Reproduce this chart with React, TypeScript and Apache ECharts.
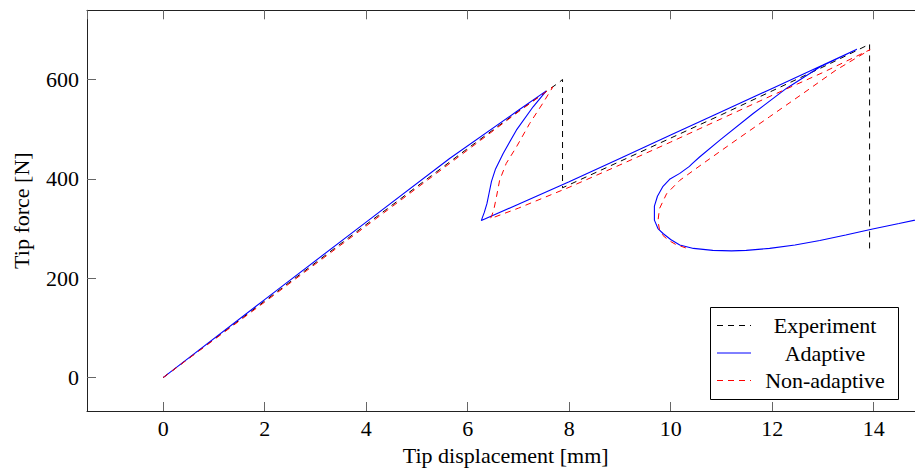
import React, { useEffect, useRef } from "react";
import * as echarts from "echarts";

// Tip displacement [mm], tip force [N]
const experiment: [number, number][] = [
  [0, 0], [2, 154], [4, 308], [6, 461], [7, 536], [7.8, 594], [7.87, 600],
  [7.87, 382], [9, 435], [10, 482], [11, 529], [12, 577], [13, 625], [13.92, 671],
  [13.92, 251],
];

const adaptive: [number, number][] = [
  [0, 0], [2, 157], [4, 313], [5.645, 441], [7, 538], [7.55, 577],
  [7.29, 545], [6.96, 498], [6.7, 451], [6.55, 420], [6.47, 395], [6.42, 370], [6.38, 350],
  [6.33, 333], [6.29, 322], [6.27, 316],
  [7, 349], [8, 394], [9, 441], [10, 488], [11, 535], [12, 582], [13, 629], [13.67, 661],
  [12.94, 625], [12.28, 582], [11.62, 531], [10.97, 478], [10.57, 444], [10.42, 430], [10.37, 425],
  [10.18, 411], [9.98, 399], [9.85, 385], [9.74, 365], [9.68, 345], [9.68, 317], [9.75, 300],
  [9.85, 290], [10.0, 278], [10.18, 267], [10.45, 260], [10.83, 256], [11.2, 255], [11.49, 256],
  [11.95, 260], [12.45, 267], [12.94, 276], [13.45, 287], [13.98, 299], [14.5, 310], [15, 321],
];

const nonAdaptive: [number, number][] = [
  [0, 0], [2, 152], [4, 305], [6, 458], [7, 535], [7.68, 585],
  [7.48, 552], [7.22, 511], [6.96, 464], [6.76, 431], [6.63, 397], [6.57, 365], [6.52, 340],
  [6.48, 327], [6.45, 320],
  [7, 341], [8, 383], [9, 428], [10, 474], [11, 521], [12, 568], [13, 614], [13.93, 660],
  [13.26, 619], [12.61, 572], [11.95, 525], [11.29, 478], [10.64, 431], [10.18, 397], [9.92, 370],
  [9.78, 340], [9.75, 315], [9.78, 298], [9.85, 286], [9.95, 277], [10.1, 268], [10.3, 261],
];

const seriesNames = ["Experiment", "Adaptive", "Non-adaptive"];
const seriesColors = ["#000000", "#0000ff", "#ff0000"];
const xLimits: [number, number] = [-1.5, 15];
const yLimits: [number, number] = [-67.2, 739.2];
const xTickStep = 2;
const yTickStep = 200;
const xLabelMax = 14;
const xTitle = "Tip displacement [mm]";
const yTitle = "Tip force [N]";

const FONT = "'Liberation Serif', 'DejaVu Serif', serif";
const FS = 22;

export default function App() {
  const ref = useRef<HTMLDivElement>(null);
  useEffect(() => {
    if (!ref.current) return;
    const chart = echarts.init(ref.current, undefined, { renderer: "svg" });
    const axisLine = { show: true, onZero: false, lineStyle: { color: "#222", width: 1 } };
    const axisTick = { show: true, inside: true, length: 9, lineStyle: { color: "#666", width: 1 } };
    const labelStyle = { color: "#000", fontSize: FS, fontFamily: FONT };
    const xBase = {
      type: "value" as const,
      min: xLimits[0],
      max: xLimits[1],
      minInterval: xTickStep,
      maxInterval: xTickStep,
      splitLine: { show: false },
      axisLine,
      axisTick,
    };
    const yBase = {
      type: "value" as const,
      min: yLimits[0],
      max: yLimits[1],
      minInterval: yTickStep,
      maxInterval: yTickStep,
      splitLine: { show: false },
      axisLine,
      axisTick,
    };
    const dataSets = [experiment, adaptive, nonAdaptive];
    const legendRows = [325.5, 353, 380.5];
    chart.setOption({
      animation: false,
      grid: { left: 87, top: 10.3, right: 175.6, bottom: 57, containLabel: false, outerBoundsMode: "none" },
      xAxis: [
        {
          ...xBase,
          position: "bottom",
          name: xTitle,
          nameLocation: "middle",
          nameGap: 33,
          nameTextStyle: { color: "#000", fontSize: FS, fontFamily: FONT },
          axisLabel: {
            ...labelStyle,
            margin: 6,
            showMinLabel: false,
            showMaxLabel: false,
            formatter: (v: number) => (v > xLabelMax ? "" : String(v)),
          },
        },
        { ...xBase, position: "top", axisLabel: { show: false } },
      ],
      yAxis: [
        {
          ...yBase,
          position: "left",
          name: yTitle,
          nameLocation: "middle",
          nameGap: 55,
          nameRotate: 90,
          nameTextStyle: { color: "#000", fontSize: FS, fontFamily: FONT },
          axisLabel: { ...labelStyle, margin: 8, showMinLabel: false, showMaxLabel: false },
        },
        { ...yBase, position: "right", axisLabel: { show: false } },
      ],
      series: dataSets.map((d, i) => ({
        name: seriesNames[i],
        type: "line",
        xAxisIndex: 0,
        yAxisIndex: 0,
        data: d,
        symbol: "none",
        showSymbol: false,
        smooth: false,
        lineStyle: {
          color: seriesColors[i],
          width: i === 1 ? 1.1 : 1,
          type: i === 1 ? "solid" : [6, 5],
        },
        itemStyle: { color: seriesColors[i] },
        z: 2 + i,
      })),
      graphic: [
        {
          type: "group",
          z: 100,
          children: [
            {
              type: "rect",
              shape: { x: 710.5, y: 307.5, width: 188, height: 92 },
              style: { fill: "#fff", stroke: "#000", lineWidth: 1 },
            },
            ...seriesNames.flatMap((name, i) => [
              {
                type: "line",
                shape: { x1: 717, y1: legendRows[i], x2: 751, y2: legendRows[i] },
                style: {
                  stroke: seriesColors[i],
                  lineWidth: 1,
                  lineDash: i === 1 ? null : [6, 5],
                },
              },
              {
                type: "text",
                x: 825,
                y: legendRows[i],
                style: {
                  text: name,
                  fill: "#000",
                  fontSize: FS,
                  fontFamily: FONT,
                  textAlign: "center",
                  textVerticalAlign: "middle",
                },
              },
            ]),
          ],
        },
      ],
    });
    return () => chart.dispose();
  }, []);
  return (
    <div style={{ position: "absolute", left: 0, top: 0, width: 915, height: 468, overflow: "hidden", background: "#fff" }}>
      <div ref={ref} style={{ width: 1100, height: 468 }} />
    </div>
  );
}
